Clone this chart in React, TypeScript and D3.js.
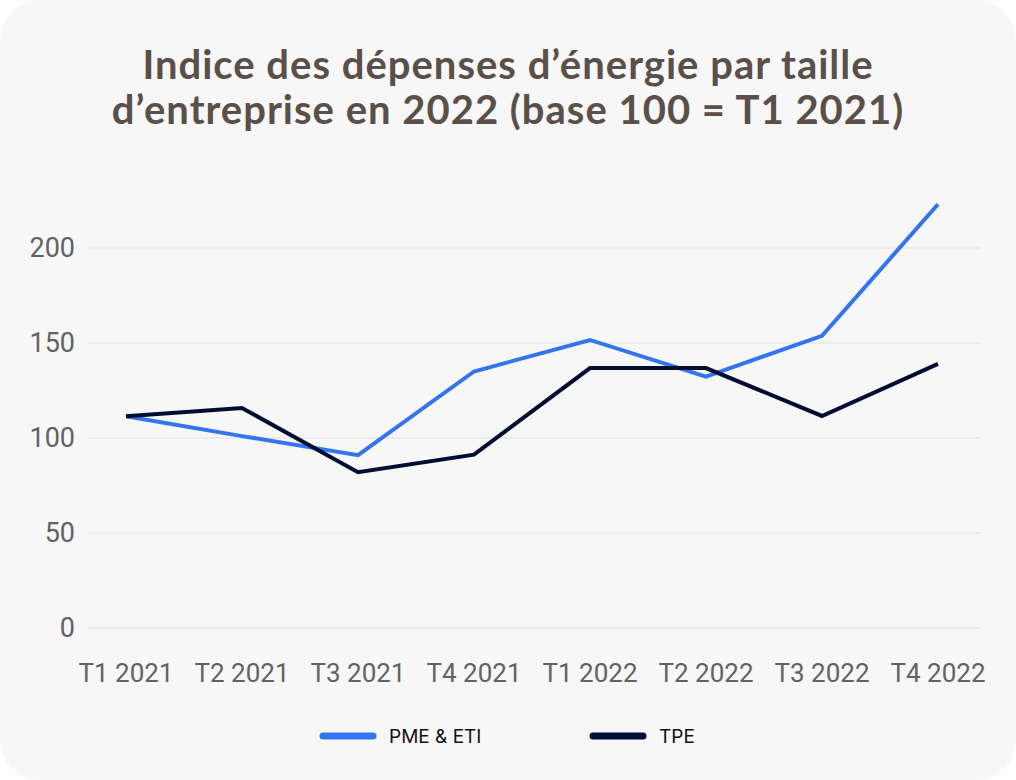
import * as d3 from "d3";
import { useEffect, useRef } from "react";

const quarters = [
  "T1 2021",
  "T2 2021",
  "T3 2021",
  "T4 2021",
  "T1 2022",
  "T2 2022",
  "T3 2022",
  "T4 2022",
];
const pmeEti = [111.4, 101, 91, 135, 151.6, 132.3, 153.8, 223];
const tpe = [111.5, 115.8, 82, 91.2, 136.8, 136.8, 111.6, 139];
const yTicks = [0, 50, 100, 150, 200];

const seriesNames = ["PME & ETI", "TPE"];
const seriesColors = ["#3574f0", "#030c33"];

const W = 1016;
const H = 780;

export default function App() {
  const ref = useRef<SVGSVGElement>(null);

  useEffect(() => {
    if (!ref.current) return;
    const svg = d3.select(ref.current);
    svg.selectAll("*").remove();

    // card background
    svg
      .append("rect")
      .attr("width", W)
      .attr("height", H)
      .attr("rx", 40)
      .attr("fill", "#f7f7f7");

    // title, two lines
    const titleLines = [
      "Indice des dépenses d’énergie par taille",
      "d’entreprise en 2022 (base 100 = T1 2021)",
    ];
    svg
      .append("g")
      .selectAll("text")
      .data(titleLines)
      .join("text")
      .attr("x", W / 2)
      .attr("y", (_, i) => 79 + i * 45)
      .attr("text-anchor", "middle")
      .attr("fill", "#5a4f49")
      .style("font-family", "Lato, sans-serif")
      .style("font-weight", "700")
      .style("font-size", "40px")
      .style("letter-spacing", "1px")
      .text((d) => d);

    const x = d3.scalePoint<string>().domain(quarters).range([126, 938]);
    const y = d3.scaleLinear().domain([0, 200]).range([628, 248]);

    // gridlines
    svg
      .append("g")
      .selectAll("line")
      .data(yTicks)
      .join("line")
      .attr("x1", 88)
      .attr("x2", 981)
      .attr("y1", (d) => y(d))
      .attr("y2", (d) => y(d))
      .attr("stroke", "#e8e8e8")
      .attr("stroke-width", 1.5);

    // y tick labels
    svg
      .append("g")
      .selectAll("text")
      .data(yTicks)
      .join("text")
      .attr("x", 75)
      .attr("y", (d) => y(d))
      .attr("dy", "0.35em")
      .attr("text-anchor", "end")
      .attr("fill", "#626262")
      .style("font-family", "Roboto, sans-serif")
      .style("font-size", "27px")
      .text((d) => d);

    // x tick labels
    svg
      .append("g")
      .selectAll("text")
      .data(quarters)
      .join("text")
      .attr("x", (d) => x(d)!)
      .attr("y", 682)
      .attr("text-anchor", "middle")
      .attr("fill", "#626262")
      .style("font-family", "Roboto, sans-serif")
      .style("font-size", "26px")
      .text((d) => d);

    const line = d3
      .line<number>()
      .x((_, i) => x(quarters[i])!)
      .y((d) => y(d));

    [pmeEti, tpe].forEach((values, i) => {
      svg
        .append("path")
        .datum(values)
        .attr("d", line)
        .attr("fill", "none")
        .attr("stroke", seriesColors[i])
        .attr("stroke-width", 4)
        .attr("stroke-linejoin", "miter");
    });

    // legend
    const legendX = [320, 590];
    const lg = svg
      .append("g")
      .selectAll("g")
      .data(seriesNames)
      .join("g")
      .attr("transform", (_, i) => `translate(${legendX[i]},736)`);
    lg.append("line")
      .attr("x1", 3)
      .attr("x2", 53)
      .attr("stroke", (_, i) => seriesColors[i])
      .attr("stroke-width", 7)
      .attr("stroke-linecap", "round");
    lg.append("text")
      .attr("x", 69)
      .attr("dy", "0.35em")
      .attr("fill", "#111")
      .style("font-family", "Inter, sans-serif")
      .style("font-size", "19px")
      .text((d) => d);
  }, []);

  return (
    <div style={{ position: "fixed", left: 0, top: 0, background: "#fff" }}>
      <svg ref={ref} width={W} height={H} style={{ display: "block" }} />
    </div>
  );
}
